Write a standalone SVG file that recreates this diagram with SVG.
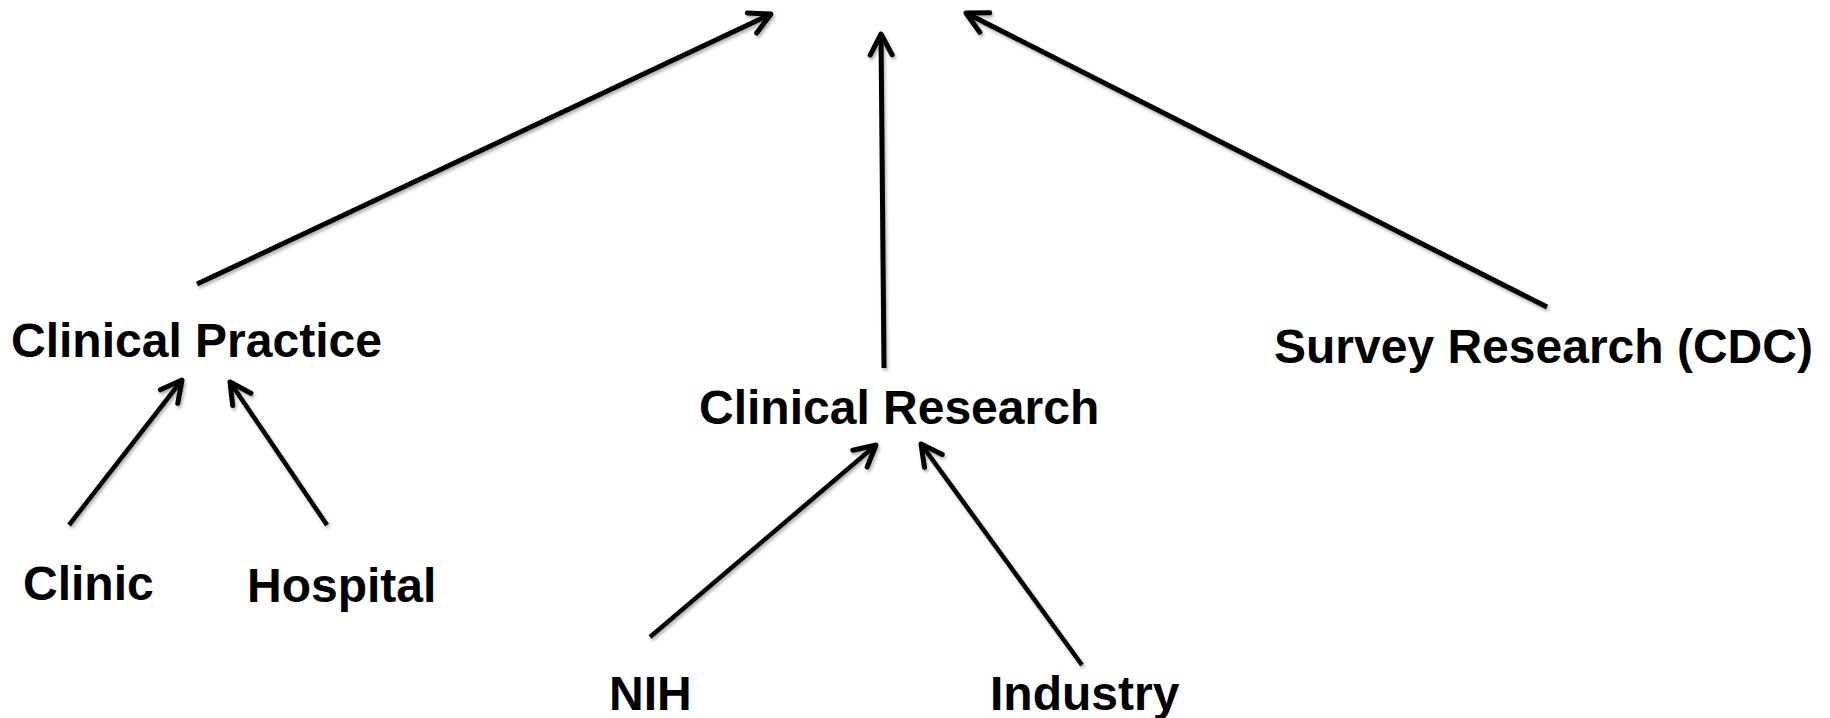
<svg xmlns="http://www.w3.org/2000/svg" width="1830" height="718" viewBox="0 0 1830 718">
  <style>
    .lbl { font-family: "Liberation Sans", Arial, sans-serif; font-weight: bold; font-size: 48px; fill: #000; }
    .edge { stroke: #000; stroke-width: 4.5; fill: none; marker-end: url(#arrow); }
    .edge.major { stroke-width: 5; }
  </style>
  <defs>
    <filter id="shadow" x="-10%" y="-10%" width="120%" height="120%">
      <feDropShadow dx="1.5" dy="2.5" stdDeviation="1.5" flood-color="#000" flood-opacity="0.3"/>
    </filter>
    <marker id="arrow" markerUnits="userSpaceOnUse" markerWidth="40" markerHeight="40" refX="0" refY="0" viewBox="-30 -20 40 40" orient="auto" overflow="visible">
      <path d="M-21,-11 L0,0 L-21,11" fill="none" stroke="#000" stroke-width="5" stroke-linecap="round" stroke-linejoin="round"/>
    </marker>
  </defs>
  <rect width="1830" height="718" fill="#fff"/>
  <g id="connectors" filter="url(#shadow)">
    <line class="edge major" x1="197" y1="284" x2="771" y2="14"/>
    <line class="edge major" x1="884" y1="368" x2="881" y2="34"/>
    <line class="edge major" x1="1547" y1="307" x2="966" y2="13"/>
    <line class="edge" x1="69" y1="525" x2="182" y2="380"/>
    <line class="edge" x1="327" y1="525" x2="230" y2="382"/>
    <line class="edge" x1="650" y1="637" x2="876" y2="445"/>
    <line class="edge" x1="1082" y1="665" x2="921" y2="444"/>
  </g>
  <g id="clinical-practice"><text class="lbl" x="11" y="357">Clinical Practice</text></g>
  <g id="clinical-research"><text class="lbl" x="699" y="424">Clinical Research</text></g>
  <g id="survey-research"><text class="lbl" x="1274" y="363">Survey Research (CDC)</text></g>
  <g id="clinic"><text class="lbl" x="23" y="600">Clinic</text></g>
  <g id="hospital"><text class="lbl" x="247" y="602">Hospital</text></g>
  <g id="nih"><text class="lbl" x="609" y="710">NIH</text></g>
  <g id="industry"><text class="lbl" x="990" y="710">Industry</text></g>
</svg>
